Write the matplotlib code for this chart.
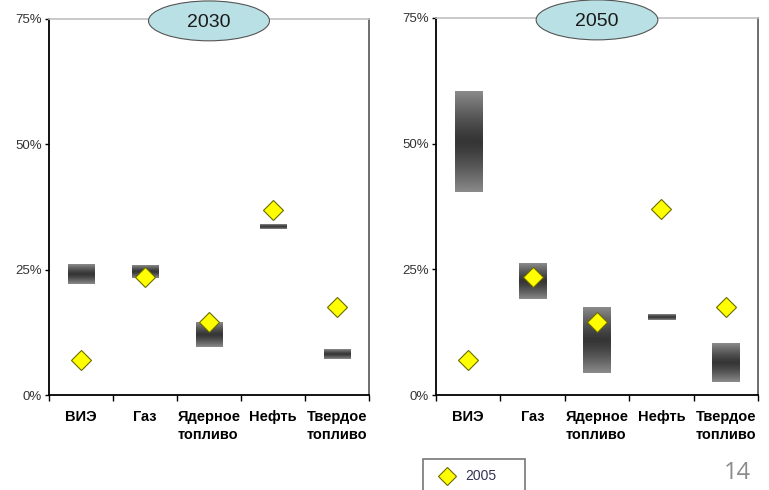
import numpy as np
import matplotlib.pyplot as plt
from matplotlib.patches import Ellipse
from matplotlib.colors import LinearSegmentedColormap

plt.rcParams['font.family'] = ['Liberation Sans', 'DejaVu Sans']

categories = ['ВИЭ', 'Газ', 'Ядерное\nтопливо', 'Нефть', 'Твердое\nтопливо']
low_2030 = [22.2, 23.4, 9.6, 33.2, 7.2]
high_2030 = [26.0, 25.8, 14.4, 34.0, 9.0]
low_2050 = [40.4, 19.0, 4.4, 15.0, 2.6]
high_2050 = [60.4, 26.0, 17.4, 16.0, 10.2]
share_2005 = [7.0, 23.5, 14.5, 37.0, 17.5]
yticks = [0, 25, 50, 75]
ytick_labels = ['0%', '25%', '50%', '75%']

cmap = LinearSegmentedColormap.from_list('bar', ['#363636', '#8a8a8a'])
grad = np.abs(np.linspace(-1, 1, 64)).reshape(-1, 1) ** 1.3
bw = 0.42

fig = plt.figure(figsize=(7.69, 4.9), dpi=100)
ax1 = fig.add_axes([49/769, 1-395/490, 320/769, 376/490])
ax2 = fig.add_axes([436/769, 1-395/490, 322/769, 377/490])

def panel(ax, low, high, year):
    x = np.arange(len(categories))
    for i in x:
        ax.imshow(grad, cmap=cmap, aspect='auto', interpolation='bilinear',
                  extent=(i - bw/2, i + bw/2, low[i], high[i]), zorder=2)
    pts, = ax.plot(x, share_2005, linestyle='none', marker='D', markersize=10,
                   markerfacecolor='#ffff00', markeredgecolor='#6b6b00',
                   markeredgewidth=0.8, zorder=3, label='2005')
    ax.set_xlim(-0.5, len(categories) - 0.5)
    ax.set_ylim(0, 75)
    ax.set_yticks(yticks)
    ax.set_yticklabels(ytick_labels, fontsize=9.5, color='#333333')
    ax.set_xticks(x)
    ax.set_xticklabels(categories, fontsize=10.5, fontweight='bold',
                       linespacing=1.3, va='top', ma='left')
    ax.set_xticks(np.arange(len(categories) + 1) - 0.5, minor=True)
    ax.tick_params(axis='x', which='major', length=0, pad=11)
    ax.tick_params(axis='x', which='minor', length=4, width=1, direction='out')
    ax.tick_params(axis='y', length=3, width=1, direction='out', pad=2)
    ax.spines['left'].set_color('black')
    ax.spines['left'].set_linewidth(1.3)
    ax.spines['bottom'].set_color('black')
    ax.spines['bottom'].set_linewidth(1.3)
    ax.spines['right'].set_color('#555555')
    ax.spines['right'].set_linewidth(1.2)
    ax.spines['top'].set_color('#c0c0c0')
    ax.spines['top'].set_linewidth(1.2)
    ell = Ellipse((0.5, 0.995), 0.378, 0.106, transform=ax.transAxes,
                  facecolor='#b9e0e4', edgecolor='#555555', linewidth=0.8,
                  clip_on=False, zorder=5)
    ax.add_patch(ell)
    ax.text(0.5, 0.992, year, transform=ax.transAxes, ha='center', va='center',
            fontsize=14, color='#1a1a1a', zorder=6)
    return pts

panel(ax1, low_2030, high_2030, '2030')
pts = panel(ax2, low_2050, high_2050, '2050')

leg = fig.legend(handles=[pts], loc='upper left', mode='expand',
                 bbox_to_anchor=(423/769, 0, 102/769, 1-459/490), borderaxespad=0,
                 fontsize=10, frameon=True, fancybox=False, edgecolor='#555555',
                 handlelength=2.0, borderpad=0.75, handletextpad=0.3, markerscale=0.95)
leg.get_frame().set_linewidth(1.2)
for t in leg.get_texts():
    t.set_color('#333355')

fig.text(737/769, 1-473/490, '14', fontsize=17, color='#8a8a8a',
         ha='center', va='center', family=['Open Sans', 'DejaVu Sans'])

fig.savefig('out.png', dpi=100)
